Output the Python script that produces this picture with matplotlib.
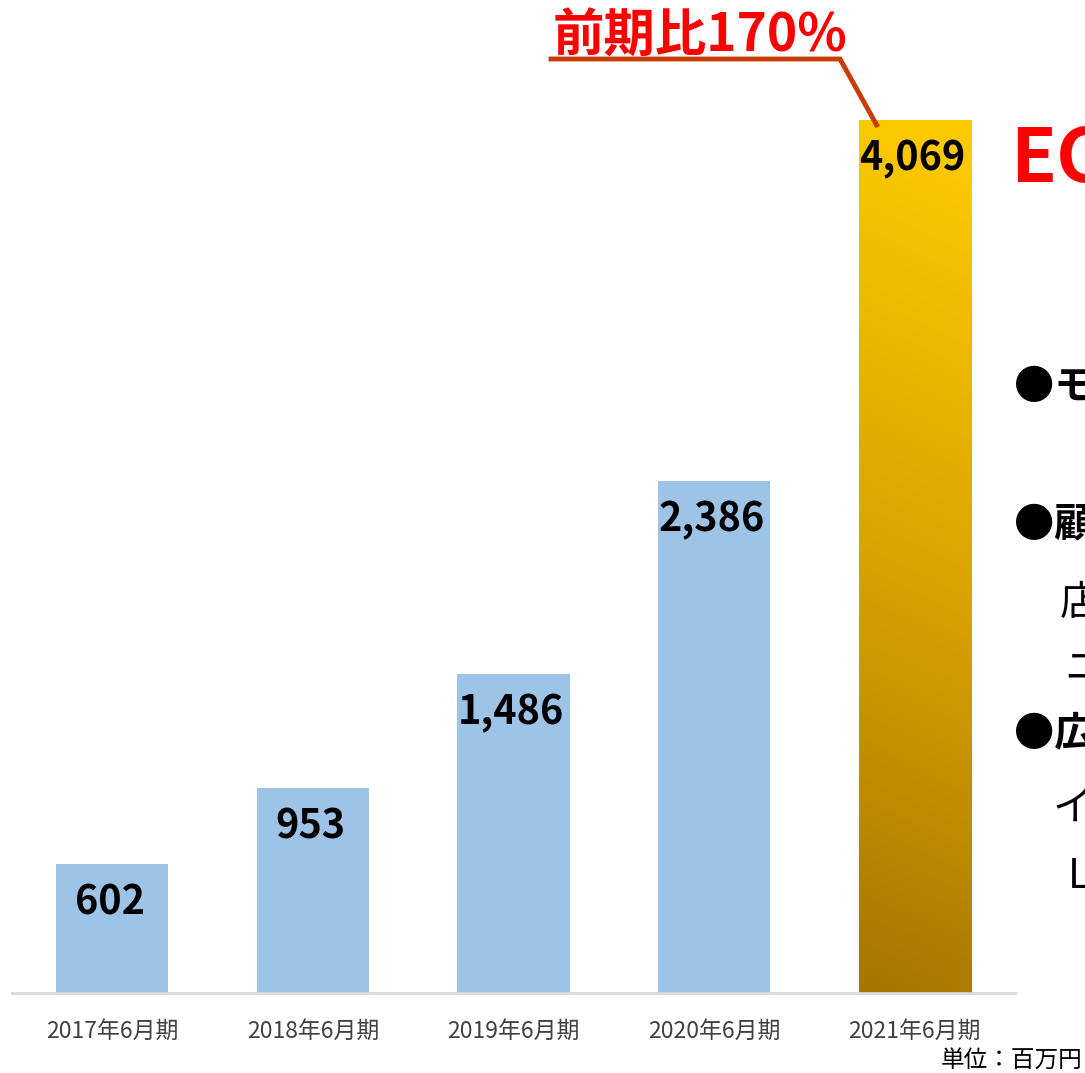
import matplotlib
matplotlib.use("Agg")
import matplotlib.pyplot as plt
import numpy as np
from matplotlib.colors import LinearSegmentedColormap
from matplotlib.lines import Line2D

plt.rcParams['font.family'] = ['Noto Sans CJK JP', 'DejaVu Sans']

categories = ["2017年6月期", "2018年6月期", "2019年6月期", "2020年6月期", "2021年6月期"]
values = [602, 953, 1486, 2386, 4069]
value_labels = ["602", "953", "1,486", "2,386", "4,069"]
growth_label = "前期比170%"
unit_label = "単位：百万円"

W, H = 1085, 1073
fig = plt.figure(figsize=(W / 100, H / 100), dpi=100)
ax = fig.add_axes([12 / W, 80 / H, 1003 / W, 966 / H])

x = np.arange(len(categories))
bw = 0.56
colors = ['#9DC3E6'] * 4 + ['none']
bars = ax.bar(x, values, width=bw, color=colors, zorder=2)

# gradient for last bar
cmap = LinearSegmentedColormap.from_list('gold', ['#A67600', '#D9A200', '#FCC800'])
grad = np.linspace(0, 1, 256).reshape(-1, 1)
gx = np.linspace(0, 1, 32).reshape(1, -1)
img = np.clip(grad + 0.06 * gx, 0, 1)
last = bars[-1]
im = ax.imshow(img, cmap=cmap, origin='lower', aspect='auto',
               extent=[x[-1] - bw / 2, x[-1] + bw / 2, 0, values[-1]], zorder=2,
               vmin=0, vmax=1)
im.set_clip_path(last)

ax.set_xlim(-0.5, len(categories) - 0.5)
ax.set_ylim(0, 4500)

for sp in ['top', 'right', 'left']:
    ax.spines[sp].set_visible(False)
ax.spines['bottom'].set_color('#D9D9D9')
ax.spines['bottom'].set_linewidth(2)
ax.spines['bottom'].set_zorder(3)
ax.set_yticks([])
ax.set_xticks(x)
ax.set_xticklabels(categories, fontsize=16.5, color='#404040')
ax.tick_params(axis='x', length=0, pad=19)

for xi, v, lab in zip(x, values, value_labels):
    ax.annotate(lab, xy=(xi, v), xytext=(-2, -28), textcoords='offset points',
                ha='center', va='center', fontsize=28.5, fontweight='bold',
                color='black', zorder=4)

# growth annotation
fig.text(700 / W, 1 - 36 / H, growth_label, ha='center', va='center',
         fontsize=37, fontweight='bold', color='#FF0000')
fig.canvas.draw()
px, py = ax.transData.transform((x[-1] - 0.19, values[-1] - 25))
line = Line2D([551, 840, px], [H - 59, H - 59, py], transform=None,
              color='#C83C0A', linewidth=3.5, solid_joinstyle='miter', zorder=5)
fig.add_artist(line)

fig.text(1082 / W, 1 - 1060 / H, unit_label, ha='right', va='center',
         fontsize=17, color='black')

# partially visible side texts (clipped by figure edge, as in the reference)
fig.text(1010 / W, 1 - 160 / H, "EC", ha='left', va='center',
         fontsize=54, fontweight='bold', color='#FF0000')
side = [("●モ", 1014, 388, 'bold'), ("●顧", 1014, 525, 'bold'),
        ("店", 1060, 603, 'normal'), ("ニ", 1064, 668, 'normal'),
        ("●広", 1014, 735, 'bold'), ("イ", 1052, 808, 'normal'),
        ("L", 1068, 877, 'normal')]
for t, sx, sy, fw in side:
    fig.text(sx / W, 1 - sy / H, t, ha='left', va='center',
             fontsize=29, fontweight=fw, color='black')

fig.savefig('out.png', dpi=100)
